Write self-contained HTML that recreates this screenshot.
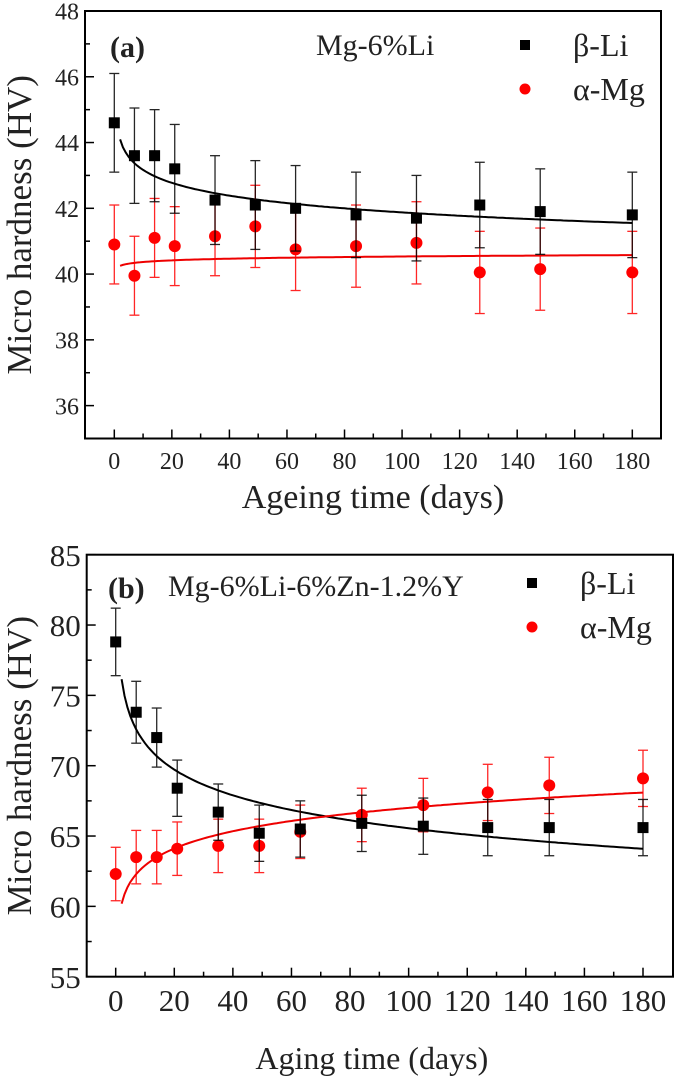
<!DOCTYPE html>
<html><head><meta charset="utf-8"><style>
body{margin:0;background:#fff}
svg{display:block}
svg text{font-family:"Liberation Serif","DejaVu Serif",serif}
</style></head><body>
<svg id="chart" width="675" height="1077" viewBox="0 0 675 1077" xmlns="http://www.w3.org/2000/svg" font-family="Liberation Serif, serif"></svg>
<script>
const days = [0,7,14,21,35,49,63,84,105,127,148,180];
const aBeta = [44.6,43.6,43.6,43.2,42.25,42.1,42.0,41.8,41.7,42.1,41.9,41.8];
const aBetaErr = [1.5,1.45,1.4,1.35,1.35,1.35,1.3,1.3,1.3,1.3,1.3,1.3];
const aAlpha = [40.9,39.95,41.1,40.85,41.15,41.45,40.75,40.85,40.95,40.05,40.15,40.05];
const aAlphaErr = [1.2,1.2,1.2,1.2,1.2,1.25,1.25,1.25,1.25,1.25,1.25,1.25];
const aBetaFit = [44.5,-0.0132];
const aAlphaFit = [40.2,0.0018];
const bBeta = [78.8,73.8,72.0,68.4,66.7,65.2,65.5,65.9,65.7,65.6,65.6,65.6];
const bBetaErr = [2.4,2.2,2.1,2.0,2.0,2.0,2.0,2.0,2.0,2.0,2.0,2.0];
const bAlpha = [62.3,63.5,63.5,64.1,64.3,64.3,65.3,66.5,67.2,68.1,68.6,69.1];
const bAlphaErr = [1.9,1.9,1.9,1.9,1.9,1.9,1.9,1.9,1.9,2.0,2.0,2.0];
const bBetaFit = [78.2,-0.0383];
const bAlphaFit = [59.06,0.0274];
const aYTicks = [36,38,40,42,44,46,48];
const bYTicks = [55,60,65,70,75,80,85];
const xTicks = [0,20,40,60,80,100,120,140,160,180];

const NS="http://www.w3.org/2000/svg";
const FF='"Liberation Serif", "DejaVu Serif", serif';
const svg=document.getElementById('chart');
function mk(tag,attrs,parent,text){const e=document.createElementNS(NS,tag);for(const k in attrs)e.setAttribute(k,attrs[k]);if(tag==='text')e.setAttribute('font-family',FF);if(text!==undefined)e.textContent=text;(parent||svg).appendChild(e);return e;}

function panel(cfg){
  const g=mk('g',{});
  
  
  const X=d=>cfg.x0+(d-0)*(cfg.x180-cfg.x0)/180;
  const Y=v=>cfg.bottom-(v-cfg.ymin)*(cfg.bottom-cfg.top)/(cfg.ymax-cfg.ymin);
  const fr=mk('rect',{x:cfg.left,y:cfg.top,width:cfg.right-cfg.left,height:cfg.bottom-cfg.top,fill:'none',stroke:'#000','stroke-width':2},g);
  
  
  const ystep=cfg.yTicks[1]-cfg.yTicks[0];
  for(let v=cfg.ymin;v<=cfg.ymax+1e-9;v+=ystep/2){
    const major=cfg.yTicks.some(t=>Math.abs(t-v)<1e-6);
    mk('line',{x1:cfg.left,x2:cfg.left+(major?9:5),y1:Y(v),y2:Y(v),stroke:'#000','stroke-width':1.5},g);
  }
  cfg.yTicks.forEach(t=>{
    const tl=mk('text',{x:cfg.left-6,y:Y(t)+cfg.fs*0.36,'text-anchor':'end','font-size':cfg.fs,fill:'#222'},g,String(t));
    
    
  });
  for(let d=-10;d<=190;d+=10){
    const x=X(d); if(x<=cfg.left+1||x>=cfg.right-1)continue;
    const major=d%20===0;
    mk('line',{x1:x,x2:x,y1:cfg.bottom,y2:cfg.bottom-(major?9:5),stroke:'#000','stroke-width':1.5},g);
  }
  xTicks.forEach(t=>{
    const tl=mk('text',{x:X(t),y:cfg.xLabelY,'text-anchor':'middle','font-size':cfg.fs,fill:'#222'},g,String(t));
    
    
  });
  const xt=mk('text',{x:(cfg.left+cfg.right)/2+cfg.xTitleDx,y:cfg.xTitleY,'text-anchor':'middle','font-size':cfg.xTitleFs,fill:'#222'},g,cfg.xTitle);
  
  
  const yc=(cfg.top+cfg.bottom)/2;
  const yt=mk('text',{x:0,y:0,transform:`translate(31,${yc}) rotate(-90)`,'text-anchor':'middle','font-size':35,fill:'#222'},g,'Micro hardness (HV)');
  
  
  [[cfg.betaFit,'#000','beta-fit-curve'],[cfg.alphaFit,'#e00','alpha-fit-curve']].forEach(([p,c,n])=>{
    let d='';for(let t=2;t<=180;t+=1){d+=(t===2?'M':'L')+X(t).toFixed(1)+','+Y(p[0]*Math.pow(t,p[1])).toFixed(1);}
    const pa=mk('path',{d:d,fill:'none',stroke:c,'stroke-width':2},g);
    
    
  });
  function series(vals,errs,color,shape,name){
    vals.forEach((v,i)=>{
      const x=X(days[i]);
      const eg=mk('g',{stroke:color,'stroke-width':1.3,opacity:0.85},g);
      
      
      mk('line',{x1:x,x2:x,y1:Y(v+errs[i]),y2:Y(v-errs[i])},eg);
      mk('line',{x1:x-5,x2:x+5,y1:Y(v+errs[i]),y2:Y(v+errs[i])},eg);
      mk('line',{x1:x-5,x2:x+5,y1:Y(v-errs[i]),y2:Y(v-errs[i])},eg);
      let m;
      if(shape==='sq') m=mk('rect',{x:x-5.5,y:Y(v)-5.5,width:11,height:11,fill:color},g);
      else m=mk('circle',{cx:x,cy:Y(v),r:6,fill:color},g);
      
      
    });
  }
  series(cfg.alpha,cfg.alphaErr,'#f00','ci','alpha-mg');
  series(cfg.beta,cfg.betaErr,'#000','sq','beta-li');
  const pl=mk('text',{x:cfg.labX,y:cfg.labY,'font-size':30,'font-weight':'bold',fill:'#222'},g,cfg.label);
  
  
  const al=mk('text',{x:cfg.alloyX,y:cfg.labY-2,'font-size':cfg.alloyFs,fill:'#222'},g,cfg.alloy);
  
  
  const lg=mk('g',{},g);
  
  
  const l1=mk('g',{},lg);
  
  
  mk('rect',{x:cfg.legX-5,y:cfg.legY-5,width:10,height:10,fill:'#000'},l1);
  mk('text',{x:cfg.legX+48,y:cfg.legY+11,'font-size':32,fill:'#222'},l1,'β-Li');
  const l2=mk('g',{},lg);
  
  
  mk('circle',{cx:cfg.legX,cy:cfg.legY+44,r:5.5,fill:'#f00'},l2);
  mk('text',{x:cfg.legX+48,y:cfg.legY+55,'font-size':32,fill:'#222'},l2,'α-Mg');
}

panel({name:'panel-a',left:85,right:661,top:11,bottom:438.5,ymin:35,ymax:48,x0:114.3,x180:632.3,
  yTicks:aYTicks,fs:24,xLabelY:469,xTitleY:508,xTitleFs:34,xTitleDx:0,xTitle:'Ageing time (days)',
  beta:aBeta,betaErr:aBetaErr,alpha:aAlpha,alphaErr:aAlphaErr,betaFit:aBetaFit,alphaFit:aAlphaFit,
  label:'(a)',labX:110,labY:57,alloy:'Mg-6%Li',alloyX:316,alloyFs:30,legX:525,legY:45});
panel({name:'panel-b',left:86.7,right:673,top:554.7,bottom:976.7,ymin:55,ymax:85,x0:115.7,x180:643,
  yTicks:bYTicks,fs:31,xLabelY:1011,xTitleY:1069,xTitleFs:32,xTitleDx:-8,xTitle:'Aging time (days)',
  beta:bBeta,betaErr:bBetaErr,alpha:bAlpha,alphaErr:bAlphaErr,betaFit:bBetaFit,alphaFit:bAlphaFit,
  label:'(b)',labX:108,labY:598,alloy:'Mg-6%Li-6%Zn-1.2%Y',alloyX:168,alloyFs:30,legX:532,legY:583});
</script>
</body></html>
